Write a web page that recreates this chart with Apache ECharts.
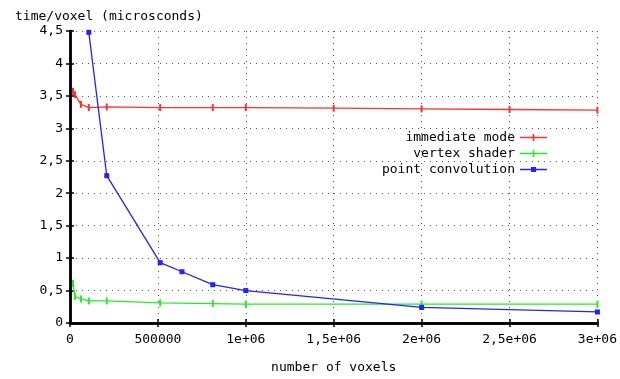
<!DOCTYPE html>
<html><head><meta charset="utf-8">
<script src="https://cdn.jsdelivr.net/npm/echarts@6/dist/echarts.min.js"></script>
<style>html,body{margin:0;padding:0;background:#fff}#c{width:620px;height:379px}</style>
</head><body><div id="c"></div>
<script>
const seriesNames = ['immediate mode', 'vertex shader', 'point convolution'];
const immediateMode = [[17000,3.57],[28000,3.52],[62000,3.37],[107000,3.32],[209000,3.33],[513000,3.32],[812000,3.32],[1000000,3.32],[1500000,3.31],[2000000,3.30],[2500000,3.29],[3000000,3.28]];
const vertexShader = [[17000,0.61],[28000,0.41],[62000,0.37],[107000,0.34],[209000,0.34],[513000,0.31],[812000,0.30],[1000000,0.29],[2000000,0.29],[3000000,0.29]];
const pointConvolution = [[107000,4.48],[209000,2.27],[513000,0.93],[637000,0.79],[812000,0.59],[1000000,0.50],[2000000,0.24],[3000000,0.17]];
const xTickLabels = {0:'0',500000:'500000',1000000:'1e+06',1500000:'1,5e+06',2000000:'2e+06',2500000:'2,5e+06',3000000:'3e+06'};
const yTickLabels = {0:'0',0.5:'0,5',1:'1',1.5:'1,5',2:'2',2.5:'2,5',3:'3',3.5:'3,5',4:'4',4.5:'4,5'};
const colors = ['#ff3030', '#22ee22', '#2222ff'];

const FONT = 'DejaVu Sans Mono';
const chart = echarts.init(document.getElementById('c'));
const grid = {left:70, right:16, top:31, bottom:51};
const gridLine = {show:true, lineStyle:{color:'#555', type:[1,5], width:1}};
const axLine = {show:true, lineStyle:{color:'#000', width:2.5}};
const ticks = {show:true, inside:true, length:4, lineStyle:{color:'#000', width:1.5}};
const tickIcon = 'path://M0,5.2h27v1.6h-27z M12.7,2.5h1.6v7h-1.6z';
const squareIcon = 'path://M0,5.2h27v1.6h-27z M11,3.5h5v5h-5z';
chart.setOption({
  animation:false,
  backgroundColor:'#fff',
  title:{text:'time/voxel (microsconds)', left:10, top:5, textStyle:{fontFamily:FONT, fontSize:13, fontWeight:'normal', color:'#000'}},
  legend:{
    orient:'vertical', right:68, top:126, align:'right', itemGap:3, itemWidth:27, itemHeight:12,
    textStyle:{fontFamily:FONT, fontSize:13, color:'#000'},
    data:[{name:seriesNames[0], icon:tickIcon},{name:seriesNames[1], icon:tickIcon},{name:seriesNames[2], icon:squareIcon}]
  },
  grid:grid,
  xAxis:[{
    type:'value', min:0, max:3000000, interval:500000,
    name:'number of voxels', nameLocation:'middle', nameGap:38,
    nameTextStyle:{fontFamily:FONT, fontSize:13, color:'#000'},
    axisLine:axLine, axisTick:ticks, splitLine:gridLine,
    axisLabel:{fontFamily:FONT, fontSize:13, color:'#000', margin:10, formatter:v=>xTickLabels[v] ?? String(v)}
  },{
    type:'value', position:'top', min:0, max:3000000, interval:500000,
    axisLine:axLine, axisTick:ticks, splitLine:{show:false}, axisLabel:{show:false}
  }],
  yAxis:[{
    type:'value', min:0, max:4.5, interval:0.5,
    axisLine:axLine, axisTick:ticks, splitLine:gridLine,
    axisLabel:{fontFamily:FONT, fontSize:13, color:'#000', margin:7, formatter:v=>yTickLabels[v] ?? String(v)}
  },{
    type:'value', position:'right', min:0, max:4.5, interval:0.5,
    axisLine:axLine, axisTick:ticks, splitLine:{show:false}, axisLabel:{show:false}
  }],
  series:[
    {name:seriesNames[0], type:'line', data:immediateMode, color:colors[0], lineStyle:{width:1.3}, symbol:'rect', symbolSize:[2,7], showAllSymbol:true, clip:true},
    {name:seriesNames[1], type:'line', data:vertexShader, color:colors[1], lineStyle:{width:1.3}, symbol:'rect', symbolSize:[2,7], showAllSymbol:true, clip:true},
    {name:seriesNames[2], type:'line', data:pointConvolution, color:colors[2], lineStyle:{width:1.3}, symbol:'rect', symbolSize:5, showAllSymbol:true, clip:true}
  ]
});
</script></body></html>
